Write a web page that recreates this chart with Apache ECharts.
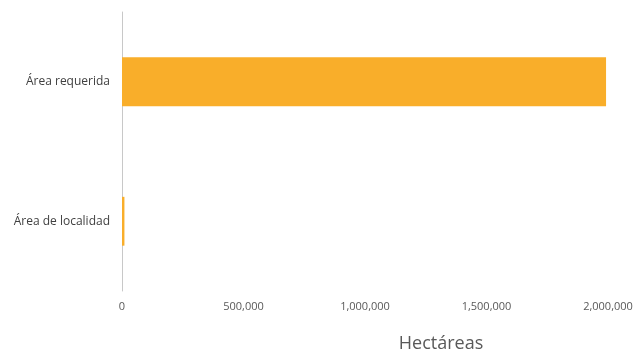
<!DOCTYPE html>
<html><head><meta charset="utf-8">
<script src="https://cdn.jsdelivr.net/npm/echarts@6/dist/echarts.min.js"></script>
<style>html,body{margin:0;padding:0;background:#fff}#c{width:642px;height:358px}</style>
</head><body><div id="c"></div>
<script>
const categories = ['Área requerida', 'Área de localidad'];
const values = [1992000, 10000];
const tickMax = 2000000;
const tickStep = 500000;

const chart = echarts.init(document.getElementById('c'));
chart.setOption({
  animation: false,
  grid: {left: 122, right: 34, top: 12, bottom: 62, containLabel: false},
  xAxis: {
    type: 'value', min: 0, max: tickMax, interval: tickStep,
    axisLine: {show: false}, axisTick: {show: false}, splitLine: {show: false},
    axisLabel: {color: '#595959', fontFamily: 'Open Sans', fontSize: 11, margin: 10,
      formatter: v => v.toLocaleString('en-US')},
    name: 'Hectáreas', nameLocation: 'middle', nameGap: 44,
    nameTextStyle: {color: '#595959', fontFamily: 'Open Sans', fontSize: 18, padding: [0, 0, 0, 152]}
  },
  yAxis: {
    type: 'category', data: categories, inverse: true,
    axisLine: {show: true, lineStyle: {color: '#c8c8c8', width: 1}},
    axisTick: {show: false},
    axisLabel: {color: '#404040', fontFamily: 'Open Sans', fontSize: 12, margin: 12}
  },
  series: [{
    type: 'bar', data: values, barCategoryGap: '65%',
    itemStyle: {color: '#F9AE2A'}
  }]
});
</script></body></html>
